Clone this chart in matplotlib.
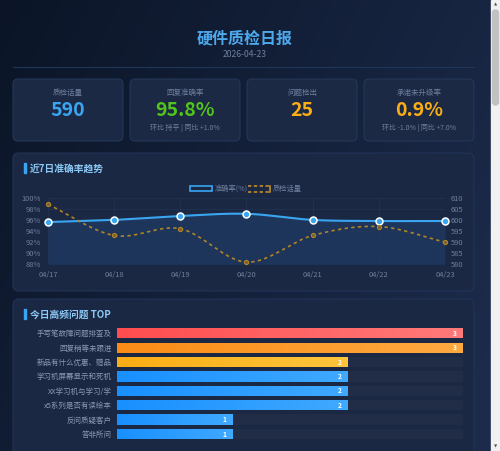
import numpy as np
import matplotlib
matplotlib.use("Agg")
import matplotlib.pyplot as plt
from matplotlib.patches import FancyBboxPatch, Rectangle
from matplotlib.colors import LinearSegmentedColormap, to_rgb

plt.rcParams['font.family'] = ['Noto Sans CJK SC', 'DejaVu Sans']

# ---- data ----
report_title = '硬件质检日报'
report_date = '2026-04-23'

card_labels = ['质检话量', '回复准确率', '问题检出', '承诺未升级率']
card_values = ['590', '95.8%', '25', '0.9%']
card_subs = ['', '环比 持平 | 同比 +1.0%', '', '环比 -1.0% | 同比 +7.0%']
card_colors = ['#3aa6f2', '#52c41a', '#faad14', '#faad14']

dates = ['04/17', '04/18', '04/19', '04/20', '04/21', '04/22', '04/23']
accuracy = [95.6, 96.0, 96.7, 97.1, 96.0, 95.8, 95.8]
volume = [607, 593, 596, 581, 593, 597, 590]

issues = ['手写笔故障问题排查及', '回复稍等未跟进', '新品有什么优惠、赠品', '学习机屏幕显示和死机',
          'XX学习机与学习/学', 'x5系列是否有读绘本', '反问质疑客户', '答非所问']
issue_counts = [3, 3, 2, 2, 2, 2, 1, 1]

W, H = 500, 451
GRAY = '#6f7f9c'


def px_axes(fig, x0, y0, x1, y1):
    return fig.add_axes([x0 / W, 1 - y1 / H, (x1 - x0) / W, (y1 - y0) / H])


def smooth(y, n=40):
    # cubic hermite curve through the points, for drawing only
    y = np.asarray(y, float)
    m = np.gradient(y)
    xs, ys = [], []
    for i in range(len(y) - 1):
        t = np.linspace(0, 1, n)
        h00 = 2 * t**3 - 3 * t**2 + 1
        h10 = t**3 - 2 * t**2 + t
        h01 = -2 * t**3 + 3 * t**2
        h11 = t**3 - t**2
        xs.append(i + t)
        ys.append(h00 * y[i] + h10 * m[i] + h01 * y[i + 1] + h11 * m[i + 1])
    return np.concatenate(xs), np.concatenate(ys)


fig = plt.figure(figsize=(5, 4.51), dpi=100)

# background
bg = fig.add_axes([0, 0, 1, 1])
bg.set_xlim(0, W)
bg.set_ylim(H, 0)
bg.axis('off')
c0, c1 = np.array(to_rgb('#0b1527')), np.array(to_rgb('#1c2b4b'))
gx, gy = np.meshgrid(np.linspace(0, 1, 200), np.linspace(0, 1, 200))
tt = np.clip(0.75 * gx + 0.35 * gy, 0, 1)[..., None]
bg.imshow(c0 + (c1 - c0) * tt, extent=[0, W, H, 0], aspect='auto', zorder=0)

# scrollbar
bg.add_patch(Rectangle((491, 0), 9, H, color='#f1f1f1', zorder=1))
bg.add_patch(FancyBboxPatch((492.5, 10), 6, 95, boxstyle='round,pad=0,rounding_size=3',
                            color='#c1c1c1', zorder=2))
bg.text(495.5, 4, '▲', fontsize=3, color='#505050', ha='center', va='center', family='DejaVu Sans')
bg.text(495.5, 447, '▼', fontsize=3, color='#505050', ha='center', va='center', family='DejaVu Sans')

# header
bg.text(245, 38, report_title, fontsize=11.5, fontweight='bold', color='#4ea8ec',
        ha='center', va='center')
bg.text(245, 54.5, report_date, fontsize=6.2, color=GRAY, ha='center', va='center')
bg.plot([13, 474], [67, 67], color='#1f3658', lw=0.8)

# cards
card_x = [13, 130, 247, 364]
for x, lab, val, sub, col in zip(card_x, card_labels, card_values, card_subs, card_colors):
    bg.add_patch(FancyBboxPatch((x, 79), 110, 62, boxstyle='round,pad=0,rounding_size=5',
                                facecolor='#1b2945', edgecolor='#27385a', lw=0.7, zorder=2))
    bg.text(x + 55, 93, lab, fontsize=5.4, color=GRAY, ha='center', va='center', zorder=3)
    bg.text(x + 55, 111, val, fontsize=14, fontweight='bold', color=col,
            ha='center', va='center', zorder=3)
    if sub:
        bg.text(x + 55, 128, sub, fontsize=5, color=GRAY, ha='center', va='center', zorder=3)

# panels
for y0, y1, title in [(153, 291, '近7日准确率趋势'), (299, 470, '今日高频问题 TOP')]:
    bg.add_patch(FancyBboxPatch((13, y0), 461, y1 - y0, boxstyle='round,pad=0,rounding_size=6',
                                facecolor='#1a2844', edgecolor='#24355a', lw=0.7, zorder=2))
    bg.add_patch(Rectangle((24, y0 + 10), 1.6, 10, color='#3aa6f2', zorder=3))
    bg.text(30, y0 + 15.5, title, fontsize=7, fontweight='bold', color='#8cc8f5',
            ha='left', va='center', zorder=3)

# legend of line chart
bg.add_patch(Rectangle((190, 186), 22, 5, facecolor='#1a2844', edgecolor='#3aa6f2', lw=1.2, zorder=3))
bg.text(215, 188.5, '准确率(%)', fontsize=5.2, color=GRAY, ha='left', va='center', zorder=3)
bg.plot([248, 270], [186, 186], color='#c08f2a', lw=1.2, ls=(0, (2, 1.5)), zorder=3)
bg.plot([248, 270], [192, 192], color='#c08f2a', lw=1.2, ls=(0, (2, 1.5)), zorder=3)
bg.plot([270, 270], [186, 192], color='#c08f2a', lw=1.2, zorder=3)
bg.text(273, 188.5, '质检话量', fontsize=5.2, color=GRAY, ha='left', va='center', zorder=3)

# ---- line chart ----
ax = px_axes(fig, 48, 197.7, 445, 264.3)
ax.set_facecolor('none')
ax.set_xlim(0, len(dates) - 1)
ax.set_ylim(88, 100)
ax.set_yticks(np.arange(88, 101, 2))
ax.set_yticklabels([f'{v}%' for v in range(88, 101, 2)])
ax.set_xticks(range(len(dates)))
ax.set_xticklabels(dates)
ax.tick_params(colors=GRAY, labelsize=5.4, length=0, pad=5)
ax.grid(True, color='#26395c', lw=0.5, alpha=0.7)
for s in ax.spines.values():
    s.set_visible(False)

ax2 = ax.twinx()
ax2.set_ylim(580, 610)
ax2.set_yticks(np.arange(580, 611, 5))
ax2.tick_params(colors=GRAY, labelsize=5.4, length=0, pad=4)
for s in ax2.spines.values():
    s.set_visible(False)

sx, sy = smooth(accuracy)
ax.fill_between(sx, sy, 88, color='#22497c', alpha=0.4, lw=0, zorder=1)
ax.plot(sx, sy, color='#3aa6f2', lw=1.5, zorder=4)
ax.plot(range(len(dates)), accuracy, 'o', ms=5, mfc='#3aa6f2', mec='white', mew=1.1,
        zorder=5, clip_on=False)

vx, vy = smooth(volume)
ax2.plot(vx, vy, color='#b08428', lw=1.2, ls=(0, (2, 2)), zorder=3)
ax2.plot(range(len(dates)), volume, 'o', ms=3, mfc='#7a6030', mec='#b08428', mew=0.8,
         zorder=3, clip_on=False)

# ---- bar chart ----
bx = px_axes(fig, 117, 326.1, 463, 441.2)
bx.set_facecolor('none')
for s in bx.spines.values():
    s.set_visible(False)
bx.set_xticks([])
bx.set_yticks(range(len(issues)))
bx.set_yticklabels(issues)
bx.tick_params(axis='y', colors='#8b98b3', labelsize=5.4, length=0, pad=4)

ypos = np.arange(len(issues))
bh = 0.72
bx.barh(ypos, [max(issue_counts)] * len(issues), height=bh, color='#212d47', zorder=1)

bar_cols = [('#ff4d4f', '#ff7a7a'), ('#fa8c16', '#ffa940'), ('#faad14', '#ffc53d')] + \
           [('#1890ff', '#40a9ff')] * 5
bars = bx.barh(ypos, issue_counts, height=bh, color=[c[1] for c in bar_cols], zorder=2)
grad = np.linspace(0, 1, 100)[None, :]
for b, (ca, cb), v, yy in zip(bars, bar_cols, issue_counts, ypos):
    cmap = LinearSegmentedColormap.from_list('g', [ca, cb])
    im = bx.imshow(grad, cmap=cmap, extent=[0, v, yy + bh / 2, yy - bh / 2],
                   aspect='auto', zorder=3)
    im.set_clip_path(b)
    bx.text(v - 0.05, yy, str(v), fontsize=4.8, fontweight='bold', color='white',
            ha='right', va='center', zorder=4)
bx.set_xlim(0, max(issue_counts))
bx.set_ylim(len(issues) - 0.5, -0.5)

fig.savefig('out.png', dpi=100)
